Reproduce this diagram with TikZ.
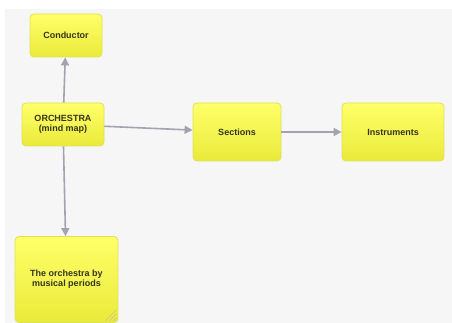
\documentclass[tikz,border=0pt]{standalone}
\usepackage{fontspec}
\setmainfont{Liberation Sans}
\usepackage{xcolor}
\usepackage{tikz}
\usetikzlibrary{arrows.meta,positioning,calc}

\definecolor{notetop}{HTML}{FFFF6A}
\definecolor{notebot}{HTML}{EAEA3A}
\definecolor{noteedge}{HTML}{E0E058}
\definecolor{linkgray}{HTML}{A2A2B0}
\definecolor{canvas}{HTML}{F6F6F6}
\definecolor{notetext}{HTML}{35351F}

\begin{document}
\begin{tikzpicture}[x=1pt,y=-1pt,
		notebox/.style={draw=noteedge, line width=0.8pt, rounded corners=4pt,
			top color=notetop, bottom color=notebot, text=notetext,
			font=\bfseries\fontsize{9}{10}\selectfont, align=center, inner sep=0pt},
		link/.style={draw=linkgray, line width=1.6pt, -{Triangle[length=8pt,width=8pt]}}]
		\useasboundingbox (0,0) rectangle (452,323);
		\fill[canvas] (5,9) rectangle (452,323);

		\node[notebox, minimum width=72pt, minimum height=43pt] (conductor) at (66,35.5) {Conductor};
		\node[notebox, minimum width=82pt, minimum height=43pt] (orchestra) at (63,124.5) {ORCHESTRA\\(mind map)};
		\node[notebox, minimum width=88pt, minimum height=58pt] (sections) at (237,132) {Sections};
		\node[notebox, minimum width=102pt, minimum height=58pt] (instruments) at (393,132) {Instruments};
		\node[notebox, minimum width=103pt, minimum height=86pt] (periods) at (66.5,279.5) {The orchestra by\\musical periods};

		% resize grip
		\foreach \d in {3,7,11}
			\draw[noteedge!60!black!50, line width=0.5pt] ($(periods.south east)+(-\d-2,-2)$) -- ($(periods.south east)+(-2,-\d-2)$);

		\draw[link] (orchestra) -- (conductor);
		\draw[link] (orchestra) -- (sections);
		\draw[link] (sections) -- (instruments);
		\draw[link] (orchestra) -- (periods);
	\end{tikzpicture}
\end{document}
